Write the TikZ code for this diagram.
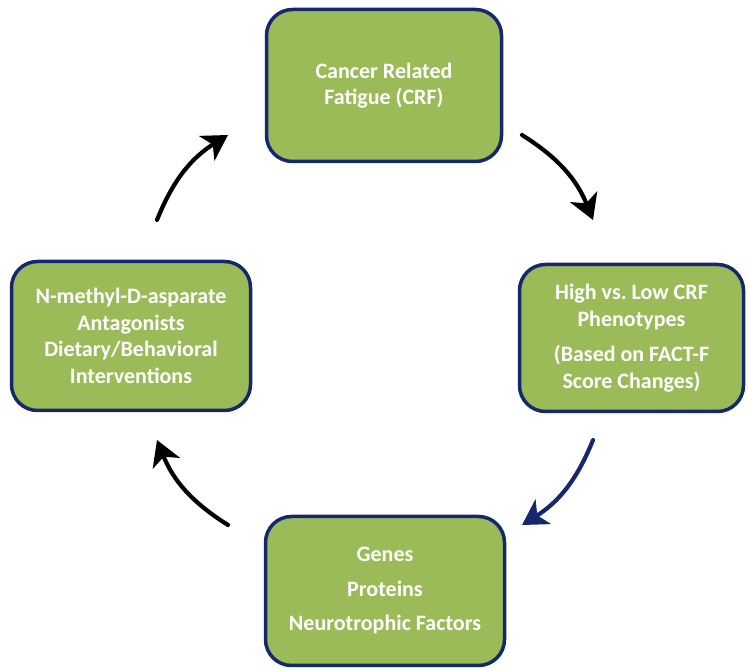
\documentclass[tikz,border=0pt]{standalone}
\usepackage{fontspec}
\setmainfont{Carlito}
\usetikzlibrary{arrows.meta}
\definecolor{boxgreen}{RGB}{155,187,89}
\definecolor{navy}{RGB}{22,40,108}
\frenchspacing
\begin{document}
\begin{tikzpicture}[x=1pt,y=1pt,
  stagebox/.style={draw=navy, line width=3.5pt, fill=boxgreen, rounded corners=26pt,
    text=white, font=\bfseries\fontsize{22}{26.5}\selectfont, align=center, inner sep=0pt},
  cyclearrow/.style={line width=4.2pt, line cap=round, bend left=18,
    -{Stealth[length=25pt,width=29pt,inset=7pt]}}]
\useasboundingbox (0,0) rectangle (748,670);
\node[stagebox, minimum width=235pt, minimum height=152pt] (crf) at (384,584.5)
  {Cancer Related\\Fatigue (CRF)};
\node[stagebox, minimum width=224pt, minimum height=147pt] (pheno) at (631.5,332)
  {High vs.\ Low CRF\\Phenotypes\\[9pt](Based on FACT-F\\Score Changes)};
\node[stagebox, minimum width=239pt, minimum height=149pt] (bio) at (385,79)
  {Genes\\[8pt]Proteins\\[8pt]Neurotrophic Factors};
\node[stagebox, minimum width=239pt, minimum height=149pt] (interv) at (131,334)
  {N-methyl-D-asparate\\Antagonists\\Dietary/Behavioral\\Interventions};
\coordinate (a1s) at (157,450); \coordinate (a1e) at (228,535);
\coordinate (a2s) at (522,535); \coordinate (a2e) at (593,450);
\coordinate (a3s) at (593,230); \coordinate (a3e) at (522,145);
\coordinate (a4s) at (228,145); \coordinate (a4e) at (157,230);
\draw[cyclearrow, black] (a1s) to (a1e);
\draw[cyclearrow, black] (a2s) to (a2e);
\draw[cyclearrow, navy] (a3s) to (a3e);
\draw[cyclearrow, black] (a4s) to (a4e);
\end{tikzpicture}
\end{document}
